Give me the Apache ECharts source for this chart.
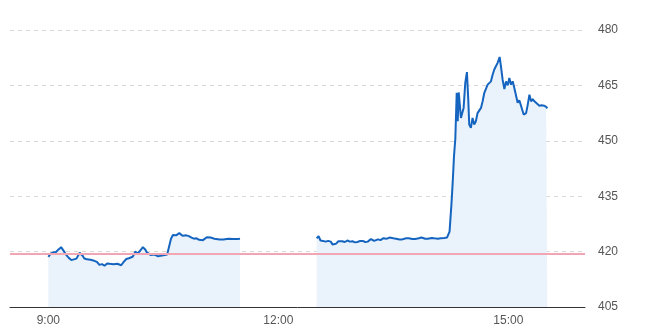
<!DOCTYPE html>
<html>
<head>
<meta charset="utf-8">
<script src="https://cdn.jsdelivr.net/npm/echarts@6/dist/echarts.min.js"></script>
<style>html,body{margin:0;padding:0;background:#fff}#c{width:650px;height:333px}</style>
</head>
<body>
<div id="c"></div>
<script>
// minutes after 9:00
const morningMinutes = [0,1,2,3,4,5,6,7,8,10,11,12,13,14,15,16,17,18,19,20,21,22,23,24.5,25.5,26,27,28,30,31,33,34,36,37,38,40,41,42,43,44,45,46,48,49,51,52,54,55,57,58,59,61,62,63,64,66,67,68,69,70,71,72,74,75,76,77,78,80,81,83,84,86,87,88,90,91,93,94,96,97.5,99,100,101,102.5,104,105,106,108,109,110,111,112,114,115,116,118,119,121,122,124,125,127,128,130,131,134,135,137,138,141,142,145,146,148,150];
const morningPrices = [418.6,419.0,419.5,419.2,419.8,419.4,419.9,420.2,420.6,421.2,420.8,420.2,419.8,419.1,418.9,418.3,418.0,417.7,417.3,417.9,418.4,418.1,418.5,419.7,419.3,419.6,418.8,418.2,417.9,418.2,417.8,417.9,417.5,417.7,417.2,416.4,416.1,416.6,416.5,416.2,416.4,416.8,416.7,416.4,416.6,416.9,416.7,416.5,416.3,416.8,417.2,418.0,417.7,418.2,418.5,418.6,419.2,420.0,419.7,419.5,420.0,420.3,421.2,420.9,420.5,419.8,419.4,419.1,419.5,419.2,418.9,418.7,419.0,418.9,419.0,418.6,419.2,419.4,423.5,424.5,424.1,424.4,424.9,425.0,424.5,424.3,424.6,424.4,424.2,424.2,423.9,423.8,423.5,423.3,423.6,423.2,423.4,423.1,423.3,423.9,424.0,423.8,423.4,423.5,423.6,423.3,423.2,423.3,423.6,423.5,423.3,423.4,423.6,423.4,423.5,423.3];
const afternoonMinutes = [210,211.5,213,214,215,216,217,218,219,220,221,222.5,224,225,226,227,228,230,232,234,236,238,240,242,244,246,248,250,252.5,254,255,258,260,262,265,267,270,272,275,277,280,282,285,287,290,292,295,297,300,302,305,307,310,312,314,315.5,316.5,317.5,318.5,319.6,320.4,321.2,322,322.9,323.8,325,326.3,327.6,328.6,329.4,330.7,332,333.3,334.6,335.9,337.2,338.6,339.9,341.2,342.5,343.8,345.1,346.4,347.7,349,350.3,351.6,353.2,354.2,355.5,356.9,358.2,359.5,360.8,362.1,363.4,364.7,366,367.3,368.6,369.9,372,373.9,375.2,376.5,377.8,379.1,380.4,381.7,384.3,386,388,389.6,390.5];
const afternoonPrices = [423.6,424.2,423.0,423.3,422.9,423.1,422.7,423.0,422.9,422.5,422.7,421.9,422.3,422.1,422.6,422.8,422.3,422.8,422.6,423.0,422.7,422.8,422.5,422.6,422.9,422.9,422.6,422.7,423.4,423.0,422.9,423.3,423.1,423.6,423.5,423.8,423.6,423.5,423.3,423.3,423.6,423.6,423.4,423.4,423.6,423.8,423.5,423.5,423.7,423.6,423.5,423.6,423.7,423.8,425.4,433,439,446,450.5,463.0,455.3,463.1,462.8,456.2,456.6,458.9,465.7,468.6,461.6,454.4,453.5,456.2,454.4,455.3,457.5,457.1,458.9,460.7,463.0,462.6,465.2,465.6,466.1,467.9,469.3,469.3,471.1,472.7,470.2,466.6,464.0,466.1,465.0,467.0,465.2,466.1,464.3,464.7,460.3,461.0,460.6,457.1,457.5,459.8,462.5,460.7,461.3,460.7,460.3,459.5,459.6,459.5,459.2,458.8];
const previousClose = 419.3;
const xTickLabels = ['9:00','12:00','15:00'];
const yTicks = [405,420,435,450,465,480];

const OPEN = 540; // 9:00 in minutes since midnight
function toPairs(mins, vals){ return mins.map((m,i)=>[OPEN+m, vals[i]]); }
function toMin(s){ const p=s.split(':'); return +p[0]*60 + +p[1]; }

const lineStyle = {color:'#1565c0', width:2};
const areaStyle = {color:'#eaf2fb', opacity:1};
const font = 'Arial, "Liberation Sans", sans-serif';

const chart = echarts.init(document.getElementById('c'));
chart.setOption({
  animation:false,
  grid:{left:10, right:65, top:30, bottom:26},
  xAxis:{
    type:'value', min:510, max:960,
    axisLine:{lineStyle:{color:'#333', width:1}},
    axisTick:{show:false},
    splitLine:{show:false},
    axisLabel:{
      customValues: xTickLabels.map(toMin),
      formatter: v => { const h=Math.floor(v/60), m=v%60; return h+':'+(m<10?'0':'')+m; },
      color:'#555', fontSize:12, fontFamily:font, margin:8
    }
  },
  yAxis:{
    type:'value', position:'right', min:yTicks[0], max:yTicks[yTicks.length-1], interval:15,
    axisLine:{show:false}, axisTick:{show:false},
    splitLine:{lineStyle:{color:'#d8d8d8', type:[4,4]}},
    axisLabel:{color:'#555', fontSize:12, fontFamily:font, margin:13}
  },
  series:[
    {type:'line', data:toPairs(morningMinutes, morningPrices), showSymbol:false, lineStyle, areaStyle, z:3,
     markLine:{silent:true, symbol:'none', label:{show:false}, lineStyle:{color:'#f2a6b4', width:2, type:'solid'}, data:[{yAxis:previousClose}]}},
    {type:'line', data:toPairs(afternoonMinutes, afternoonPrices), showSymbol:false, lineStyle, areaStyle, z:3}
  ]
});
</script>
</body>
</html>
